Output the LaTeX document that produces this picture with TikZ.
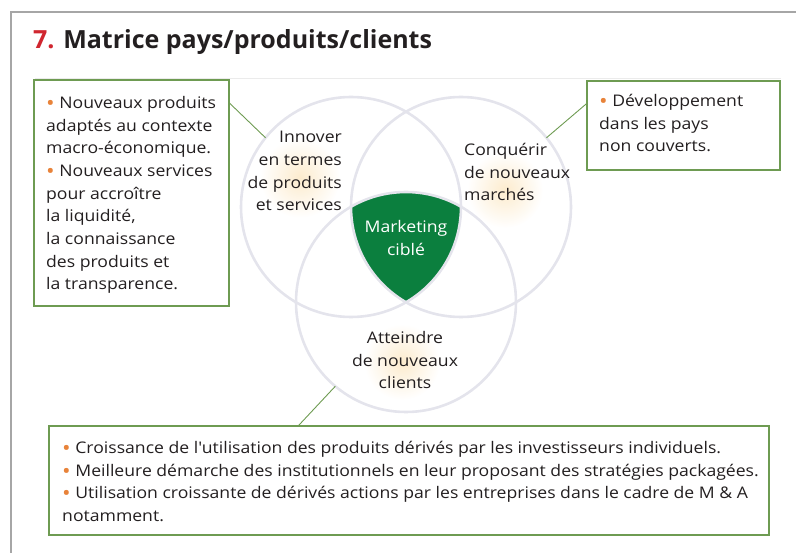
\documentclass[tikz,border=0pt]{standalone}
\usepackage{fontspec}
\usepackage{graphicx}
\setmainfont{Open Sans}[FakeStretch=1.10]
\newfontfamily\headfont{Open Sans}
\usetikzlibrary{calc}
\definecolor{boxgreen}{HTML}{6E9B52}
\definecolor{vennline}{HTML}{E4E4EC}
\definecolor{coregreen}{HTML}{0B7F3E}
\definecolor{dotorange}{HTML}{E8833A}
\definecolor{titlered}{HTML}{D0262F}
\definecolor{ink}{HTML}{231F20}
\definecolor{framegray}{HTML}{A6A6A6}
\definecolor{glowtone}{HTML}{FBE3B8}
\newcommand{\pt}{\textcolor{dotorange}{\raisebox{-0.25ex}{\scalebox{1.3}{\textbullet}}}\ }
\tikzset{
  infobox/.style={draw=boxgreen, line width=1.3pt, rectangle, inner sep=0pt, outer sep=0pt, anchor=north west},
  boxtext/.style={inner sep=0pt, anchor=north west, align=left, text=ink,
    font=\fontsize{16}{22.7}\selectfont},
  venn/.style={circle, draw=vennline, line width=2.6pt, minimum size=220pt, inner sep=0pt, outer sep=0pt},
  venntext/.style={inner sep=0pt, text=ink, font=\fontsize{16}{22.7}\selectfont},
  link/.style={draw=boxgreen, line width=0.9pt},
  glow/.style={inner color=glowtone!70, outer color=white}
}
\begin{document}
\begin{tikzpicture}[x=1pt, y=-1pt]
\useasboundingbox (0,0) rectangle (796,553);
% page frame and title rule
\draw[framegray, line width=2pt] (11,553) -- (11,12) -- (796,12);
\draw[black!8, line width=1pt] (35,79) -- (781,79);
\node[anchor=base west, inner sep=0pt, font=\headfont\fontsize{25}{30}\selectfont\bfseries] (title) at (33,49)
  {\textcolor{titlered}{7.} \textcolor{ink}{Matrice pays/produits/clients}};

% soft glows behind the circle labels
\shade[glow] (300,178) circle [radius=40pt];
\shade[glow] (505,190) circle [radius=38pt];
\shade[glow] (402,362) circle [radius=38pt];

% central intersection
\begin{scope}
  \clip (351,207) circle [radius=110pt];
  \clip (461,207) circle [radius=110pt];
  \fill[coregreen] (406,302) circle [radius=110pt];
\end{scope}

% the three circles
\node[venn] (cL) at (351,207) {};
\node[venn] (cR) at (461,207) {};
\node[venn] (cB) at (406,302) {};

% circle labels
\node[venntext, anchor=north east, align=right] (innov) at (342,131)
  {Innover\\en termes\\de produits\\et services};
\node[venntext, anchor=north west, align=left] (conq) at (464,143)
  {Conquérir\\de nouveaux\\marchés};
\node[venntext, anchor=north, align=center] (att) at (405,331)
  {Atteindre\\de nouveaux\\clients};
\node[venntext, anchor=north, align=center, text=white] (mkt) at (406,220)
  {Marketing\\ciblé};

% boxes
\node[infobox, minimum width=195pt, minimum height=226pt] (lbox) at (34,80) {};
\node[boxtext] (ltext) at (46,96)
  {\pt Nouveaux produits\\adaptés au contexte\\macro-économique.\\\pt Nouveaux services\\pour accroître\\la liquidité,\\la connaissance\\des produits et\\la transparence.};

\node[infobox, minimum width=193pt, minimum height=89pt] (rbox) at (587,81) {};
\node[boxtext] (rtext) at (599,94)
  {\pt Développement\\dans les pays\\non couverts.};

\node[infobox, minimum width=720pt, minimum height=109pt] (bbox) at (49,426) {};
\node[boxtext] (btext) at (62,441)
  {\pt Croissance de l\textquotesingle utilisation des produits dérivés par les investisseurs individuels.\\
   \pt Meilleure démarche des institutionnels en leur proposant des stratégies packagées.\\
   \pt Utilisation croissante de dérivés actions par les entreprises dans le cadre de M \& A\\
   notamment.};

% connectors
\draw[link] ($(lbox.north east)!0.1!(lbox.south east)$) -- (cL.141);
\draw[link] ($(rbox.north west)!0.25!(rbox.south west)$) -- (cR.39);
\draw[link] ($(bbox.north west)!0.346!(bbox.north east)$) -- (cB.-130);
\end{tikzpicture}
\end{document}
